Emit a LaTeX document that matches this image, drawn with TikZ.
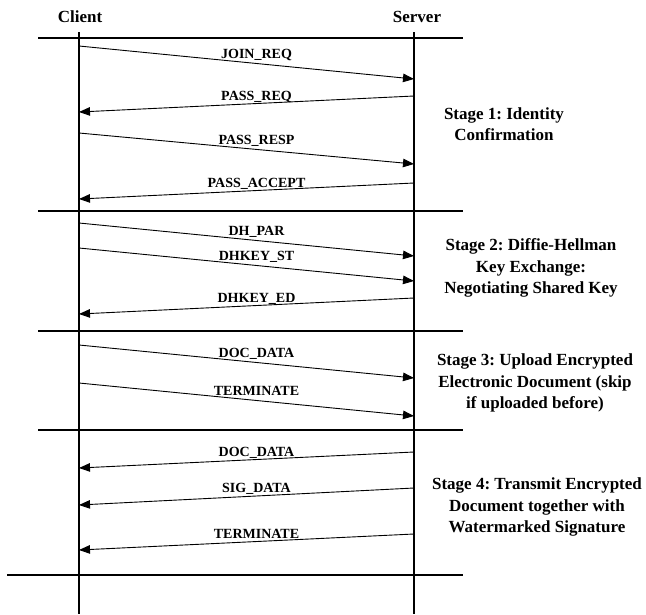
\documentclass[tikz,border=0pt]{standalone}
\usepackage{fontspec}
\setmainfont{Liberation Serif}
\usetikzlibrary{arrows.meta}
\frenchspacing

\begin{document}
\begin{tikzpicture}[x=1pt,y=-1pt,font=\bfseries,
  vita/.style={line width=1.4pt},
  msg/.style={line width=.9pt,-{Triangle[length=11pt,width=8.5pt]}},
  lbl/.style={font=\bfseries\fontsize{14}{16}\selectfont,anchor=base,inner sep=0pt,xshift=10pt,yshift=4pt},
  fase/.style={font=\bfseries\fontsize{17}{21.5}\selectfont,align=center}]

\useasboundingbox (0,0) rectangle (646,614);
\pgfmathsetmacro{\xc}{79}
\pgfmathsetmacro{\xs}{414}

\node[font=\bfseries\fontsize{17}{20}\selectfont] (client) at (80,17) {Client};
\node[font=\bfseries\fontsize{17}{20}\selectfont] (server) at (417,17) {Server};

% lifelines
\coordinate (c0) at (\xc,32);
\coordinate (cz) at (\xc,614);
\coordinate (s0) at (\xs,32);
\coordinate (sz) at (\xs,614);
\draw[vita] (c0) -- (cz);
\draw[vita] (s0) -- (sz);

% stage separators
\foreach \y/\n in {38/1,211/2,331/3,430/4} {
  \coordinate (a\n) at (38,\y);
  \coordinate (b\n) at (463,\y);
  \draw[vita] (a\n) -- (b\n);
}
\coordinate (a5) at (7,575);
\coordinate (b5) at (463,575);
\draw[vita] (a5) -- (b5);

% client -> server
\foreach \ya/\yb/\txt/\n in {46/79/JOIN\_REQ/1,133/164/PASS\_RESP/2,223/256/DH\_PAR/3,
    248/281/DHKEY\_ST/4,345/378/DOC\_DATA/5,383/416/TERMINATE/6} {
  \coordinate (cr\n) at (\xc,\ya);
  \coordinate (sr\n) at (\xs,\yb);
  \draw[msg] (cr\n) -- node[lbl] {\txt} (sr\n);
}

% server -> client
\foreach \ya/\yb/\txt/\n in {96/112/PASS\_REQ/1,183/199/PASS\_ACCEPT/2,298/314/DHKEY\_ED/3,
    452/468/DOC\_DATA/4,488/505/SIG\_DATA/5,534/550/TERMINATE/6} {
  \coordinate (sl\n) at (\xs,\ya);
  \coordinate (cl\n) at (\xc,\yb);
  \draw[msg] (sl\n) -- node[lbl] {\txt} (cl\n);
}

\node[fase] (st1) at (504,124) {Stage 1: Identity\\Confirmation};
\node[fase] (st2) at (531,268) {Stage 2: Diffie-Hellman\\Key Exchange:\\Negotiating Shared Key};
\node[fase] (st3) at (535,383) {Stage 3: Upload Encrypted\\Electronic Document (skip\\if uploaded before)};
\node[fase] (st4) at (537,507) {Stage 4: Transmit Encrypted\\Document together with\\Watermarked Signature};

\end{tikzpicture}
\end{document}
